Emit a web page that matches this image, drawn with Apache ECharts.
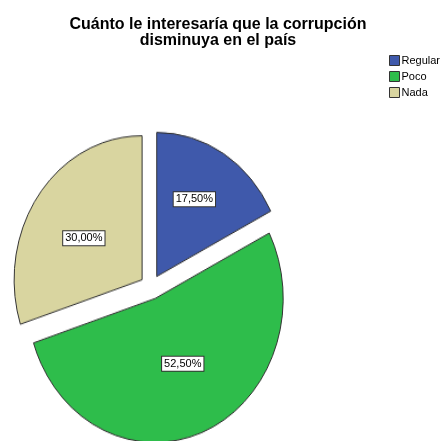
<!DOCTYPE html>
<html lang="es">
<head>
    <meta charset="UTF-8">
    <title>Corrupción</title>
    <script type="text/javascript" src="https://cdn.jsdelivr.net/npm/echarts@6/dist/echarts.min.js"></script>
    <style>
        html, body { margin: 0; padding: 0; background: #fff; overflow: hidden; }
        #wrap { position: relative; width: 441px; height: 441px; overflow: hidden; }
        #pie { position: absolute; left: 0; top: 0; width: 441px; height: 441px;
               transform: scaleY(1.125); transform-origin: 0 287px; }
        #top { position: absolute; left: 0; top: 0; width: 441px; height: 441px; }
    </style>
</head>
<body>
<div id="wrap">
    <div id="pie"></div>
    <div id="top"></div>
</div>
<script type="text/javascript">
    var titleText = 'Cuánto le interesaría que la corrupción\ndisminuya en el país';
    var categories = ['Regular', 'Poco', 'Nada'];
    var percents = [17.5, 52.5, 30.0];
    var colors = ['#3f59ab', '#2ebd4b', '#d9d5a0'];

    var font = "'Liberation Sans', Arial, sans-serif";

    function items(fill) {
        return categories.map(function (c, i) {
            return {
                name: c,
                value: percents[i],
                selected: true,
                itemStyle: fill ? { color: colors[i] } : { color: 'rgba(0,0,0,0)', borderWidth: 0 }
            };
        });
    }

    // the pie itself, stretched vertically with css (SPSS draws it as an ellipse)
    var pieChart = echarts.init(document.getElementById('pie'), null, { renderer: 'canvas' });
    pieChart.setOption({
        animation: false,
        series: [{
            type: 'pie',
            center: [151, 287],
            radius: 128,
            startAngle: 90,
            clockwise: true,
            selectedMode: 'multiple',
            selectedOffset: 11,
            silent: true,
            itemStyle: { borderColor: '#333', borderWidth: 1 },
            label: { show: false },
            labelLine: { show: false },
            data: items(true)
        }]
    });

    // title, legend and value labels, not stretched
    var topChart = echarts.init(document.getElementById('top'));
    topChart.setOption({
        animation: false,
        title: {
            text: titleText,
            left: 213,
            top: 12,
            textAlign: 'center',
            textStyle: { fontFamily: font, fontSize: 16, fontWeight: 'bold', lineHeight: 16, color: '#000' }
        },
        legend: {
            orient: 'vertical',
            left: 389,
            top: 55,
            padding: 0,
            itemGap: 5,
            itemWidth: 10,
            itemHeight: 10,
            icon: 'rect',
            selectedMode: false,
            textStyle: { fontFamily: font, fontSize: 11, color: '#000', padding: [0, 0, 0, -3] },
            data: categories.map(function (c, i) {
                return { name: c, itemStyle: { color: colors[i], borderColor: '#333', borderWidth: 1, opacity: 1 } };
            })
        },
        series: [{
            type: 'pie',
            center: [151, 287],
            radius: 138,
            startAngle: 90,
            clockwise: true,
            selectedMode: 'multiple',
            selectedOffset: 11,
            silent: true,
            label: {
                show: true,
                position: 'inside',
                fontFamily: font,
                fontSize: 11,
                color: '#000',
                backgroundColor: '#fff',
                borderColor: '#333',
                borderWidth: 1,
                padding: [2, 2, 1, 2],
                formatter: function (p) {
                    return p.value.toFixed(2).replace('.', ',') + '%';
                }
            },
            // SPSS puts the small slice's label higher up than the mid radius
            labelLayout: function (p) {
                return p.dataIndex === 0 ? { dy: -17 } : {};
            },
            labelLine: { show: false },
            data: items(false)
        }]
    });
</script>
</body>
</html>
